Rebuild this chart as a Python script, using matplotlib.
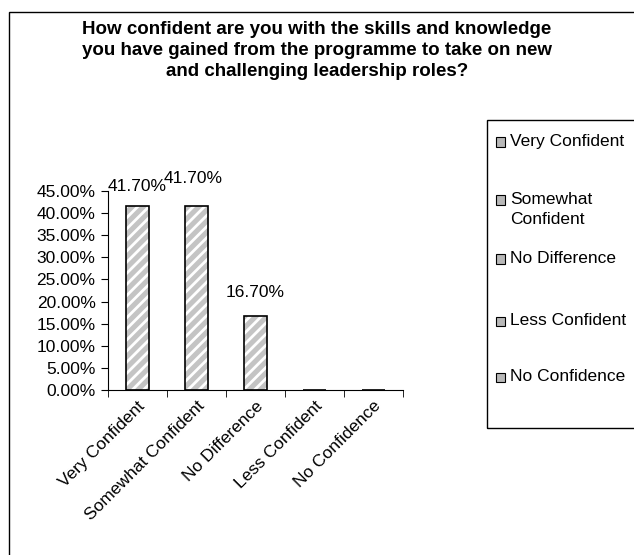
import numpy as np
import matplotlib.pyplot as plt
import matplotlib.transforms as mtransforms
from matplotlib.patches import Rectangle

plt.rcParams['font.family'] = ['Liberation Sans', 'DejaVu Sans']
plt.rcParams['hatch.linewidth'] = 2.0

categories = ["Very Confident", "Somewhat Confident", "No Difference",
              "Less Confident", "No Confidence"]
legend_labels = ["Very Confident", "Somewhat\nConfident", "No Difference",
                 "Less Confident", "No Confidence"]
values = [41.7, 41.7, 16.7, 0, 0]
title = ("How confident are you with the skills and knowledge\n"
         "you have gained from the programme to take on new\n"
         "and challenging leadership roles?")

W, H = 634, 555
fig = plt.figure(figsize=(W / 100, H / 100), dpi=100)

# outer chart frame, cut off at right/bottom like the original
fig.patches.append(Rectangle((9 / W, -0.1), 1.2, 1.1 - 12 / H,
                             transform=fig.transFigure, fill=False,
                             edgecolor='black', linewidth=1.0))

fig.text(0.5, 1 - 21 / H, title, ha='center', va='top', fontsize=13.5,
         fontweight='bold', linespacing=1.32)

ax = fig.add_axes([108 / W, 1 - 390 / H, 295 / W, 199 / H])
x = np.arange(len(categories))
ax.bar(x, values, width=0.4, color='#c4c4c4', edgecolor='white',
       hatch='///', linewidth=0)
ax.bar(x, values, width=0.4, fill=False, edgecolor='black', linewidth=1.2)

# data labels (offsets in pixels, Excel nudged them slightly)
label_offsets = [(0, 19), (-3, 27), (0, 24)]
for xi, v, off in zip(x, values, label_offsets):
    if v > 0:
        ax.annotate(f"{v:.2f}%", (xi, v), xytext=off,
                    textcoords='offset pixels', ha='center', va='center',
                    fontsize=12.5)

ax.set_xlim(-0.5, len(categories) - 0.5)
ax.set_ylim(0, 45)
yt = np.arange(0, 46, 5)
ax.set_yticks(yt)
ax.set_yticklabels([f"{t:.2f}%" for t in yt], fontsize=12.5)
ax.set_xticks(x)
ax.set_xticklabels(categories, rotation=45, ha='right', va='top',
                   rotation_mode='anchor', fontsize=12.5)
shift = mtransforms.ScaledTranslation(-7 / 100, -8 / 100, fig.dpi_scale_trans)
for lab in ax.get_xticklabels():
    lab.set_transform(lab.get_transform() + shift)
ax.set_xticks(np.arange(-0.5, len(categories)), minor=True)
ax.tick_params(axis='x', which='major', length=0, pad=6)
ax.tick_params(axis='x', which='minor', length=5, direction='out')
ax.tick_params(axis='y', length=5, direction='out', pad=4)
for s in ['top', 'right']:
    ax.spines[s].set_visible(False)

# legend box with entries laid out like the Excel legend
fig.patches.append(Rectangle((487 / W, 1 - 428 / H), 0.3, 308 / H,
                             transform=fig.transFigure, fill=False,
                             edgecolor='black', linewidth=1.0))
legend_y = [142, 200, 259, 321, 377]
for lab, yy in zip(legend_labels, legend_y):
    fig.patches.append(Rectangle((496 / W, 1 - (yy + 4.5) / H), 9 / W, 9 / H,
                                 transform=fig.transFigure,
                                 facecolor='#b8b8b8', edgecolor='black',
                                 linewidth=0.8))
    fig.text(510 / W, 1 - (yy - 8) / H, lab, ha='left', va='top',
             fontsize=12.5, linespacing=1.4)

fig.savefig("out.png", dpi=100)
